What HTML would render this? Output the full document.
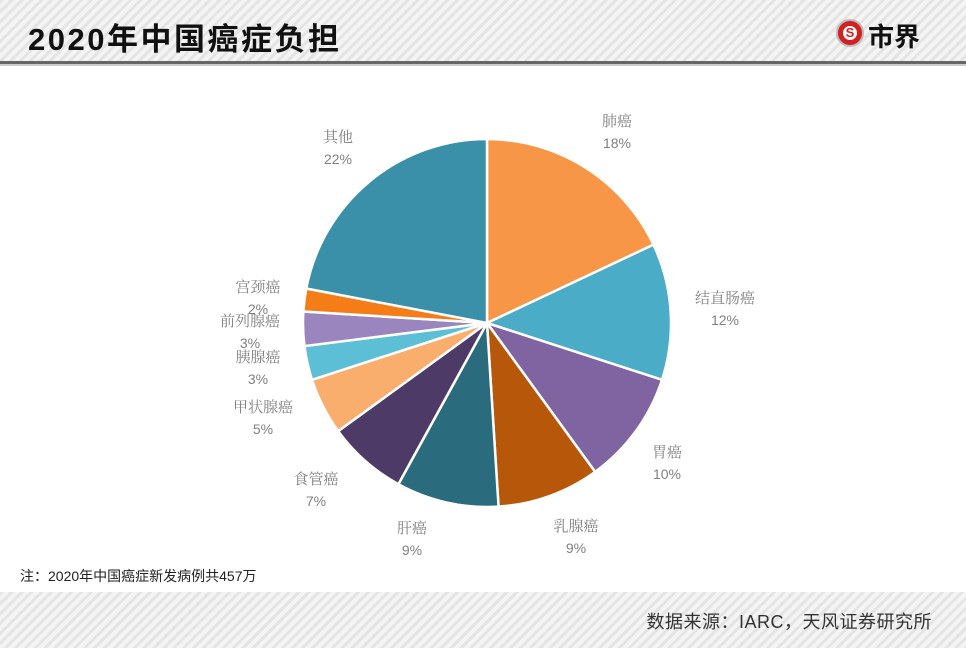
<!DOCTYPE html>
<html><head><meta charset="utf-8"><style>
html,body{margin:0;padding:0;background:#fff;}
#w{position:relative;width:966px;height:650px;overflow:hidden;font-family:"Liberation Sans","Noto Sans CJK SC",sans-serif;}
.band{position:absolute;left:0;width:966px;background:repeating-linear-gradient(135deg,#e4e4e4 0 3px,#f4f4f4 3px 7px);}
.t{position:absolute;left:28px;top:14px;font-size:31px;font-weight:bold;color:#111;letter-spacing:2.5px;}
.lab{position:absolute;font-family:"Noto Serif CJK SC","Liberation Serif",serif;color:#808080;font-size:15px;text-align:center;line-height:22px;transform:translateX(-50%);white-space:nowrap;}
.lab b{font-family:"Liberation Sans",sans-serif;font-weight:normal;font-size:14px;}
</style></head><body><div id="w">
<div class="band" style="top:0;height:61px;"></div>
<div style="position:absolute;left:0;top:61px;width:966px;height:3px;background:#666;"></div>
<div style="position:absolute;left:0;top:64px;width:966px;height:2px;background:#ccc;"></div>
<div class="t">2020年中国癌症负担</div>
<div style="position:absolute;left:836px;top:19px;width:24px;height:24px;border-radius:50%;background:#d42020;border:2px solid #bbb;"></div>
<div style="position:absolute;left:843px;top:26px;width:14px;height:14px;border-radius:50%;background:#fff;color:#d42020;font-size:13px;font-weight:bold;line-height:14px;text-align:center;">S</div>
<div style="position:absolute;left:868px;top:17px;font-size:26px;font-weight:bold;color:#111;">市界</div>
<svg id="pie" width="966" height="650" style="position:absolute;left:0;top:0"></svg>
<div class="lab" style="left:617px;top:110px">肺癌<br><b>18%</b></div>
<div class="lab" style="left:725px;top:287px">结直肠癌<br><b>12%</b></div>
<div class="lab" style="left:667px;top:441px">胃癌<br><b>10%</b></div>
<div class="lab" style="left:576px;top:515px">乳腺癌<br><b>9%</b></div>
<div class="lab" style="left:412px;top:517px">肝癌<br><b>9%</b></div>
<div class="lab" style="left:316px;top:468px">食管癌<br><b>7%</b></div>
<div class="lab" style="left:263px;top:396px">甲状腺癌<br><b>5%</b></div>
<div class="lab" style="left:258px;top:346px">胰腺癌<br><b>3%</b></div>
<div class="lab" style="left:250px;top:310px">前列腺癌<br><b>3%</b></div>
<div class="lab" style="left:258px;top:276px">宫颈癌<br><b>2%</b></div>
<div class="lab" style="left:338px;top:126px">其他<br><b>22%</b></div>
<div style="position:absolute;left:20px;top:566px;font-size:14px;color:#222;">注：2020年中国癌症新发病例共457万</div>
<div class="band" style="top:592px;height:56px;"></div>
<div style="position:absolute;right:34px;top:608px;font-size:18px;color:#333;letter-spacing:0.5px;">数据来源：IARC，天风证券研究所</div>
</div>
<script>
var d=[[18,'#F79646'],[12,'#4BACC8'],[10,'#8064A2'],[9,'#B6570A'],[9,'#2A6B7D'],[7,'#4E3A66'],[5,'#F9AE6E'],[3,'#5DBFD6'],[3,'#9B85BF'],[2,'#F47D18'],[22,'#3A8FA9']];
var cx=487,cy=323,r=184,a=0,s='';
function p(t){return [(cx+r*Math.sin(t)).toFixed(2),(cy-r*Math.cos(t)).toFixed(2)];}
d.forEach(function(e){var a2=a+e[0]/100*2*Math.PI;var p1=p(a),p2=p(a2);
s+='<path d="M'+cx+','+cy+'L'+p1+'A'+r+','+r+' 0 '+(a2-a>Math.PI?1:0)+',1 '+p2+'Z" fill="'+e[1]+'" stroke="#fff" stroke-width="2.5"/>';a=a2;});
document.getElementById('pie').innerHTML=s;
</script>
</body></html>
